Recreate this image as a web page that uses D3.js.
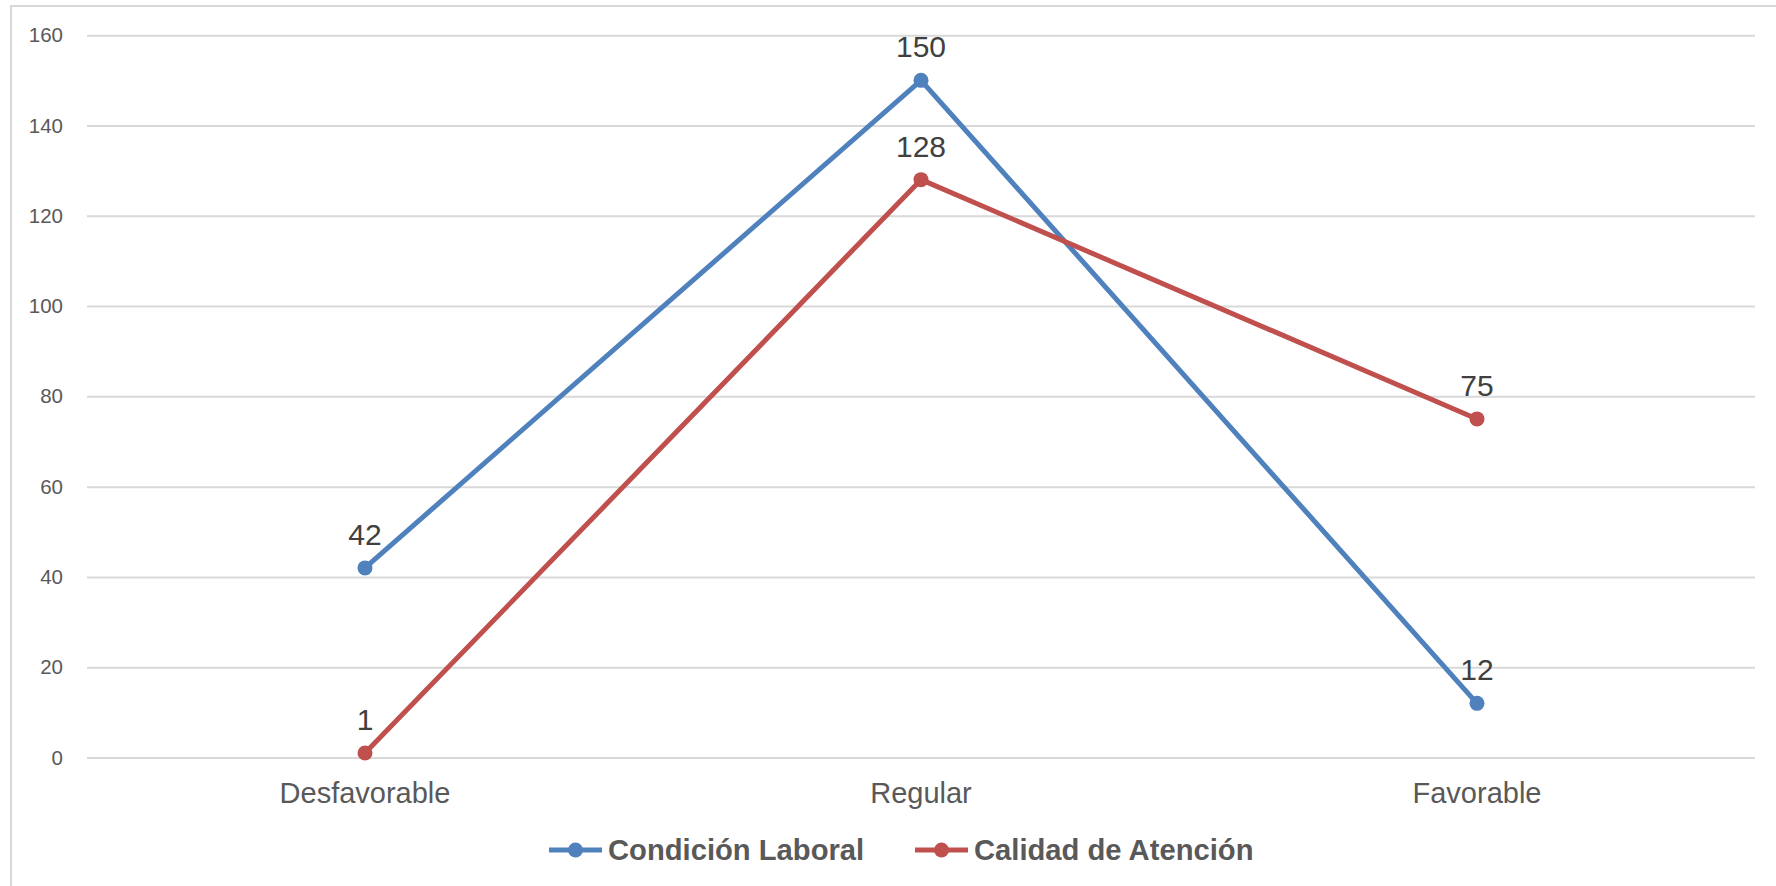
<!DOCTYPE html>
<html>
<head>
<meta charset="utf-8">
<script src="https://cdn.jsdelivr.net/npm/d3@7"></script>
<style>
  html, body { margin: 0; padding: 0; background: #fff; }
  svg { display: block; }
</style>
</head>
<body>
<svg id="chart" width="1776" height="886"></svg>
<script>
// Categories and series
const categories = ["Desfavorable", "Regular", "Favorable"];
const condicionLaboral = [42, 150, 12];
const calidadAtencion = [1, 128, 75];
const yTicks = [0, 20, 40, 60, 80, 100, 120, 140, 160];

const series = [
  { name: "Condición Laboral", values: condicionLaboral, color: "#4F81BD" },
  { name: "Calidad de Atención", values: calidadAtencion, color: "#C0504D" }
];

const W = 1776, H = 886;
const plot = { left: 87, right: 1755, top: 35.2, bottom: 757.5 };

const svg = d3.select("#chart");

// outer chart frame
svg.append("rect")
  .attr("x", 11).attr("y", 6)
  .attr("width", 1900).attr("height", 1000)
  .attr("fill", "none").attr("stroke", "#D9D9D9").attr("stroke-width", 2);

const x = d3.scaleBand().domain(categories).range([plot.left, plot.right]);
const y = d3.scaleLinear().domain([0, 160]).range([plot.bottom, plot.top]);
const cx = c => x(c) + x.bandwidth() / 2;

// horizontal gridlines + y tick labels
const yAxis = d3.axisLeft(y).tickValues(yTicks)
  .tickSize(-(plot.right - plot.left)).tickPadding(24);
const gy = svg.append("g").attr("transform", `translate(${plot.left},0)`).call(yAxis);
gy.select(".domain").remove();
gy.selectAll(".tick line").attr("stroke", "#D9D9D9").attr("stroke-width", 2);
gy.selectAll(".tick text")
  .attr("fill", "#595959")
  .style("font-family", "'Liberation Sans', Arial, sans-serif")
  .style("font-size", "20.5px");

// category labels
const xAxis = d3.axisBottom(x).tickSize(0).tickPadding(0);
const gx = svg.append("g").attr("transform", `translate(0,${plot.bottom})`).call(xAxis);
gx.select(".domain").remove();
gx.selectAll(".tick text")
  .attr("y", 45).attr("dy", 0)
  .attr("fill", "#595959")
  .style("font-family", "'Liberation Sans', Arial, sans-serif")
  .style("font-size", "29px");

// lines, markers, value labels
const line = d3.line().x((d, i) => cx(categories[i])).y(d => y(d));

series.forEach(s => {
  const g = svg.append("g");
  g.append("path")
    .datum(s.values)
    .attr("d", line)
    .attr("fill", "none")
    .attr("stroke", s.color)
    .attr("stroke-width", 5)
    .attr("stroke-linejoin", "round");
  g.selectAll("circle").data(s.values).join("circle")
    .attr("cx", (d, i) => cx(categories[i]))
    .attr("cy", d => y(d))
    .attr("r", 7.5)
    .attr("fill", s.color);
  g.selectAll("text").data(s.values).join("text")
    .attr("x", (d, i) => cx(categories[i]))
    .attr("y", d => y(d) - 23)
    .attr("text-anchor", "middle")
    .attr("fill", "#404040")
    .style("font-family", "'Liberation Sans', Arial, sans-serif")
    .style("font-size", "30px")
    .text(d => d);
});

// legend
const legendItems = [
  { s: series[0], x0: 549 },
  { s: series[1], x0: 915 }
];
const ly = 850;
legendItems.forEach(({ s, x0 }) => {
  const g = svg.append("g");
  g.append("line")
    .attr("x1", x0).attr("x2", x0 + 53)
    .attr("y1", ly).attr("y2", ly)
    .attr("stroke", s.color).attr("stroke-width", 5);
  g.append("circle")
    .attr("cx", x0 + 26.5).attr("cy", ly).attr("r", 7.5)
    .attr("fill", s.color);
  g.append("text")
    .attr("x", x0 + 59).attr("y", ly + 10)
    .attr("fill", "#595959")
    .style("font-family", "'Liberation Sans', Arial, sans-serif")
    .style("font-size", "29.2px")
    .style("font-weight", "bold")
    .text(s.name);
});
</script>
</body>
</html>
